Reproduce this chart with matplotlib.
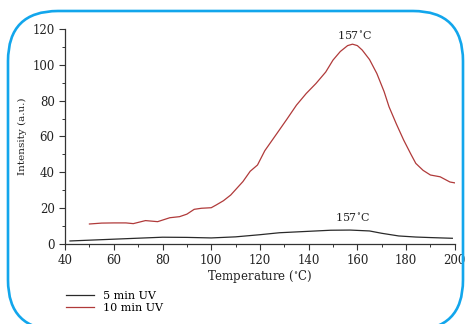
import matplotlib
matplotlib.use("Agg")
import matplotlib.pyplot as plt
from matplotlib.patches import FancyBboxPatch
from matplotlib.ticker import MultipleLocator

plt.rcParams['font.family'] = ['DejaVu Serif']
plt.rcParams['mathtext.fontset'] = 'dejavuserif'

temp_10 = [50, 55, 60, 65, 68, 73, 78, 83, 87, 90, 93, 96, 100, 102, 105, 108, 113, 116, 119, 122,
           127, 131, 135, 139, 143, 147, 150, 153, 156, 158, 160, 162, 165, 168, 171, 173, 176, 179,
           182, 184, 187, 190, 194, 198, 200]
int_10 = [11.0, 11.5, 11.6, 11.6, 11.2, 12.9, 12.3, 14.5, 15.1, 16.5, 19.2, 19.8, 20.1, 21.6, 24.0, 27.2,
          34.7, 40.5, 44.0, 52.0, 61.7, 69.5, 77.5, 84.0, 89.6, 96.0, 102.7, 107.5, 110.8, 111.6, 110.8,
          108.3, 103.0, 95.2, 85.0, 76.6, 67.0, 58.0, 50.0, 44.9, 41.0, 38.4, 37.4, 34.5, 34.0]

temp_5 = [42, 60, 80, 90, 100, 110, 120, 128, 140, 149, 157, 165, 170, 177, 184, 190, 199]
int_5 = [1.5, 2.5, 3.6, 3.5, 3.2, 3.8, 5.0, 6.1, 6.9, 7.5, 7.6, 7.1, 5.8, 4.3, 3.7, 3.4, 3.0]

annotations = [("157$^{\\circ}$C", 159, 113.5), ("157$^{\\circ}$C", 158, 11.5)]

fig = plt.figure(figsize=(4.65, 3.24), dpi=100)
ax = fig.add_axes([0.14, 0.248, 0.838, 0.662])

ax.plot(temp_5, int_5, color='#2a2a2a', lw=0.9, label='5 min UV')
ax.plot(temp_10, int_10, color='#b03a3a', lw=0.9, label='10 min UV')

for txt, x, y in annotations:
    ax.text(x, y, txt, ha='center', va='bottom', fontsize=8, color='#222222')

ax.set_xlim(40, 200)
ax.set_ylim(0, 120)
ax.xaxis.set_major_locator(MultipleLocator(20))
ax.xaxis.set_minor_locator(MultipleLocator(10))
ax.yaxis.set_major_locator(MultipleLocator(20))
ax.yaxis.set_minor_locator(MultipleLocator(10))
for s in ['top', 'right']:
    ax.spines[s].set_visible(False)
for s in ['left', 'bottom']:
    ax.spines[s].set_color('#333333')
    ax.spines[s].set_linewidth(0.9)
ax.tick_params(which='major', length=4, width=0.8, labelsize=8.5, colors='#333333', labelcolor='#222222')
ax.tick_params(which='minor', length=2.5, width=0.7, colors='#333333')
ax.set_xlabel('Temperature ($^{\\circ}$C)', fontsize=8.5, color='#222222', labelpad=1)
ax.set_ylabel('Intensity (a.u.)', fontsize=7.5, color='#222222', labelpad=4)

handles, labels = ax.get_legend_handles_labels()
fig.legend(handles, labels, loc='upper left', bbox_to_anchor=(0.13, 0.118), frameon=False,
           fontsize=8, handlelength=2.5, handletextpad=0.8, labelspacing=0.15, borderpad=0.0)

box = FancyBboxPatch((0.08, -0.06), 4.55, 3.19,
                     boxstyle='round,pad=0,rounding_size=0.5',
                     transform=fig.dpi_scale_trans, fill=False, edgecolor='#12a6ec', lw=1.9,
                     clip_on=False)
fig.patches.append(box)

fig.savefig('out.png', dpi=100)
